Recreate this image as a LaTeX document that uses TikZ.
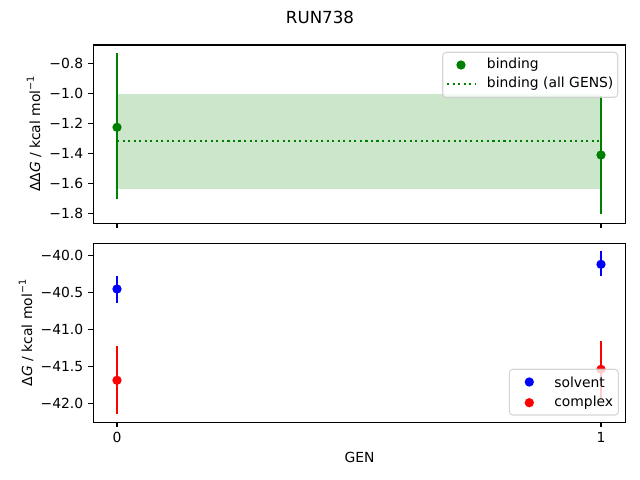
\documentclass[tikz,border=0pt]{standalone}
\usepackage{fontspec}
\setmainfont{DejaVu Sans}
\definecolor{mgreen}{HTML}{008000}
\definecolor{mfill}{HTML}{CCE6CC}
\definecolor{mblue}{HTML}{0000FF}
\definecolor{mred}{HTML}{FF0000}
\definecolor{legedge}{HTML}{CCCCCC}
\begin{document}
\begin{tikzpicture}[x=0.72pt,y=-0.72pt,
  axisframe/.style={line width=0.8pt,draw=black},
  tickmark/.style={line width=0.8pt},
  ticklab/.style={font=\fontsize{10}{12}\selectfont,inner sep=0pt},
  ebar/.style={line width=1.5pt},
  legbox/.style={draw=legedge,fill=white,fill opacity=0.8,draw opacity=0.8,rounded corners=2.5,line width=0.8pt},
  legtext/.style={font=\fontsize{10}{12}\selectfont,anchor=west,inner sep=0pt}]
\def\mr{3.35pt}
\useasboundingbox (0,0) rectangle (640,480);
% title
\node[font=\fontsize{12}{14}\selectfont] (title) at (320,17) {RUN738};
% ---------- top axes ----------
\fill[mfill] (117,94) rectangle (601,188.7);
\draw[mgreen,line width=1.5pt,dash pattern=on 1.5pt off 2.475pt] (117,140.7) -- (601,140.7);
\draw[ebar,mgreen] (117,53.3) -- (117,199.3);
\draw[ebar,mgreen] (601,95.8) -- (601,214);
\fill[mgreen] (117,127.3) circle[radius=\mr];
\fill[mgreen] (601,155) circle[radius=\mr];
\draw[axisframe] (93.3,45) rectangle (625.6,223.3);
\foreach \v/\y in {0.8/63.3,1.0/93.3,1.2/123.3,1.4/153.3,1.6/183.3,1.8/213.3}{
  \draw[tickmark] (93.3,\y) -- ++(-4.9,0);
  \node[ticklab,anchor=east] at (83.5,\y) {−\v};
}
\draw[tickmark] (117,223.3) -- ++(0,4.9);
\draw[tickmark] (601,223.3) -- ++(0,4.9);
\node[rotate=90,font=\fontsize{10}{12}\selectfont] (ylabA) at (34,134) {ΔΔ\textit{G} / kcal mol\raisebox{0.45em}{\fontsize{7}{8}\selectfont −1}};
% legend top
\draw[legbox] (442.7,52.3) rectangle (617.7,97.3);
\fill[mgreen] (461,65) circle[radius=\mr];
\node[legtext] (lbind) at (486.7,65) {binding};
\draw[mgreen,line width=1.5pt,dash pattern=on 1.5pt off 2.475pt] (447,84) -- (475,84);
\node[legtext] (lall) at (486.7,84) {binding (all GENS)};
% ---------- bottom axes ----------
\draw[ebar,mblue] (117,276) -- (117,302.7);
\fill[mblue] (117,289) circle[radius=\mr];
\draw[ebar,mred] (117,346) -- (117,414);
\fill[mred] (117,380.3) circle[radius=\mr];
\draw[ebar,mblue] (601,250.7) -- (601,275.7);
\fill[mblue] (601,264.3) circle[radius=\mr];
\draw[ebar,mred] (601,341) -- (601,397.7);
\fill[mred] (601,369.3) circle[radius=\mr];
\draw[axisframe] (93.3,243.3) rectangle (625.6,422.3);
\foreach \v/\y in {40.0/255.7,40.5/292.7,41.0/329.7,41.5/366.7,42.0/403.7}{
  \draw[tickmark] (93.3,\y) -- ++(-4.9,0);
  \node[ticklab,anchor=east] at (83.5,\y) {−\v};
}
\draw[tickmark] (117,422.3) -- ++(0,4.9);
\draw[tickmark] (601,422.3) -- ++(0,4.9);
\node[ticklab,anchor=north] (xt0) at (117,432.2) {0};
\node[ticklab,anchor=north] (xt1) at (601,432.2) {1};
\node[font=\fontsize{10}{12}\selectfont] (xlab) at (359.5,457) {GEN};
\node[rotate=90,font=\fontsize{10}{12}\selectfont] (ylabB) at (26,332.8) {Δ\textit{G} / kcal mol\raisebox{0.45em}{\fontsize{7}{8}\selectfont −1}};
% legend bottom
\draw[legbox] (509.3,369.3) rectangle (618.3,415);
\fill[mblue] (529.3,382) circle[radius=\mr];
\node[legtext] (lsol) at (554,382) {solvent};
\fill[mred] (529.3,402.7) circle[radius=\mr];
\node[legtext] (lcom) at (554,402.7) {complex};
\end{tikzpicture}
\end{document}
